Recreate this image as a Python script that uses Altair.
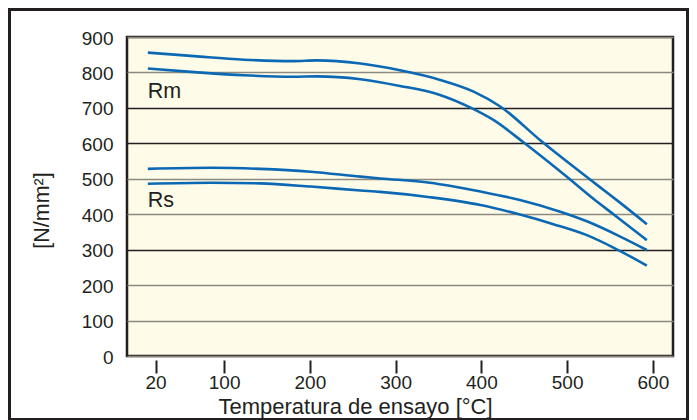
import altair as alt
import pandas as pd

# ---- data ----
rm_hi_x = [11, 65, 123, 181, 208, 259, 305, 352, 391, 422, 469, 508, 539, 562, 593]
rm_hi_y = [856, 846, 836, 832, 834, 825, 806, 779, 746, 704, 608, 533, 475, 432, 372]

rm_lo_x = [11, 65, 123, 181, 208, 259, 305, 350, 388, 414, 449, 500, 531, 554, 593]
rm_lo_y = [811, 801, 792, 788, 789, 781, 762, 738, 700, 666, 603, 505, 443, 400, 327]

rs_hi_x = [11, 84, 142, 201, 259, 282, 340, 399, 445, 492, 523, 562, 593]
rs_hi_y = [528, 531, 528, 520, 506, 501, 489, 464, 440, 407, 380, 337, 299]

rs_lo_x = [11, 84, 142, 201, 259, 282, 340, 399, 445, 484, 523, 554, 593]
rs_lo_y = [486, 489, 487, 478, 467, 463, 448, 426, 399, 372, 341, 306, 255]

x_ticks = [20, 100, 200, 300, 400, 500, 600]
y_ticks = [0, 100, 200, 300, 400, 500, 600, 700, 800, 900]

label_text = ["Rm", "Rs"]
label_x = [11, 11]
label_y = [729, 421]

x_title = "Temperatura de ensayo [°C]"
y_title = "[N/mm²]"

# ---- build tables ----
rows = []
for name, xs, ys in [("Rm_hi", rm_hi_x, rm_hi_y), ("Rm_lo", rm_lo_x, rm_lo_y),
                     ("Rs_hi", rs_hi_x, rs_hi_y), ("Rs_lo", rs_lo_x, rs_lo_y)]:
    for i, (a, b) in enumerate(zip(xs, ys)):
        rows.append({"serie": name, "t": a, "v": b, "o": i})
df = pd.DataFrame(rows)
labels = pd.DataFrame({"txt": label_text, "t": label_x, "v": label_y})

FONT = "Liberation Sans"
INK = "#231f20"
BLUE = "#0a68b4"

xscale = alt.Scale(domain=[-13.3, 623.5], nice=False, zero=False)
yscale = alt.Scale(domain=[0, 900], nice=False)

xaxis = alt.Axis(values=x_ticks, tickCount=20, domain=False, grid=False, tickSize=13,
                 tickWidth=2, tickColor=INK, offset=4, labelFontSize=19, labelPadding=0,
                 labelOverlap=False, labelColor=INK, labelFont=FONT,
                 title=x_title, titleFont=FONT,
                 titleFontSize=22, titleFontWeight="normal", titleColor=INK,
                 titleX=228, titleY=53, titleBaseline="alphabetic", titleAnchor="middle",
                 titleAlign="center")
yaxis = alt.Axis(values=y_ticks, tickCount=20, domain=False, ticks=False, tickSize=0,
                 grid=True,
                 gridColor={"condition": {"test": "indexof([300,600,700], datum.value) >= 0",
                                          "value": "#231f20"},
                            "value": "#8c8a80"},
                 gridWidth=1.4, labelPadding=14, labelFontSize=19, labelColor=INK,
                 labelOverlap=False, labelFont=FONT, labelOffset=1,
                 title=y_title, titleFont=FONT,
                 titleFontSize=21.5, titleFontWeight="normal", titleColor=INK,
                 titleAngle=270, titleX=-85, titleY=173, titleAlign="center",
                 titleBaseline="middle")

lines = alt.Chart(df).mark_line(color=BLUE, strokeWidth=2.6, interpolate="monotone").encode(
    x=alt.X("t:Q", scale=xscale, axis=xaxis),
    y=alt.Y("v:Q", scale=yscale, axis=yaxis),
    detail="serie:N",
    order="o:Q",
)

texts = alt.Chart(labels).mark_text(align="left", baseline="alphabetic", fontSize=21.5,
                                     font=FONT, color=INK).encode(
    x=alt.X("t:Q", scale=xscale),
    y=alt.Y("v:Q", scale=yscale),
    text="txt:N",
)

frame = alt.Chart(pd.DataFrame({"a": [0]})).mark_rect(
    fill=None, fillOpacity=0, stroke=INK, strokeWidth=3, clip=False).encode(
    x=alt.value(-117.5), x2=alt.value(560.5), y=alt.value(-27.5), y2=alt.value(382.5)
)

chart = alt.layer(frame, lines, texts).properties(
    width=546, height=319,
    autosize=alt.AutoSizeParams(type="none"),
    padding={"left": 119, "top": 29, "right": 16, "bottom": 64},
    background="white",
).configure_view(
    fill="#fefbe8", stroke=INK, strokeWidth=2.5
)

chart.save("out.html", embed_options={"renderer": "svg", "actions": False})
